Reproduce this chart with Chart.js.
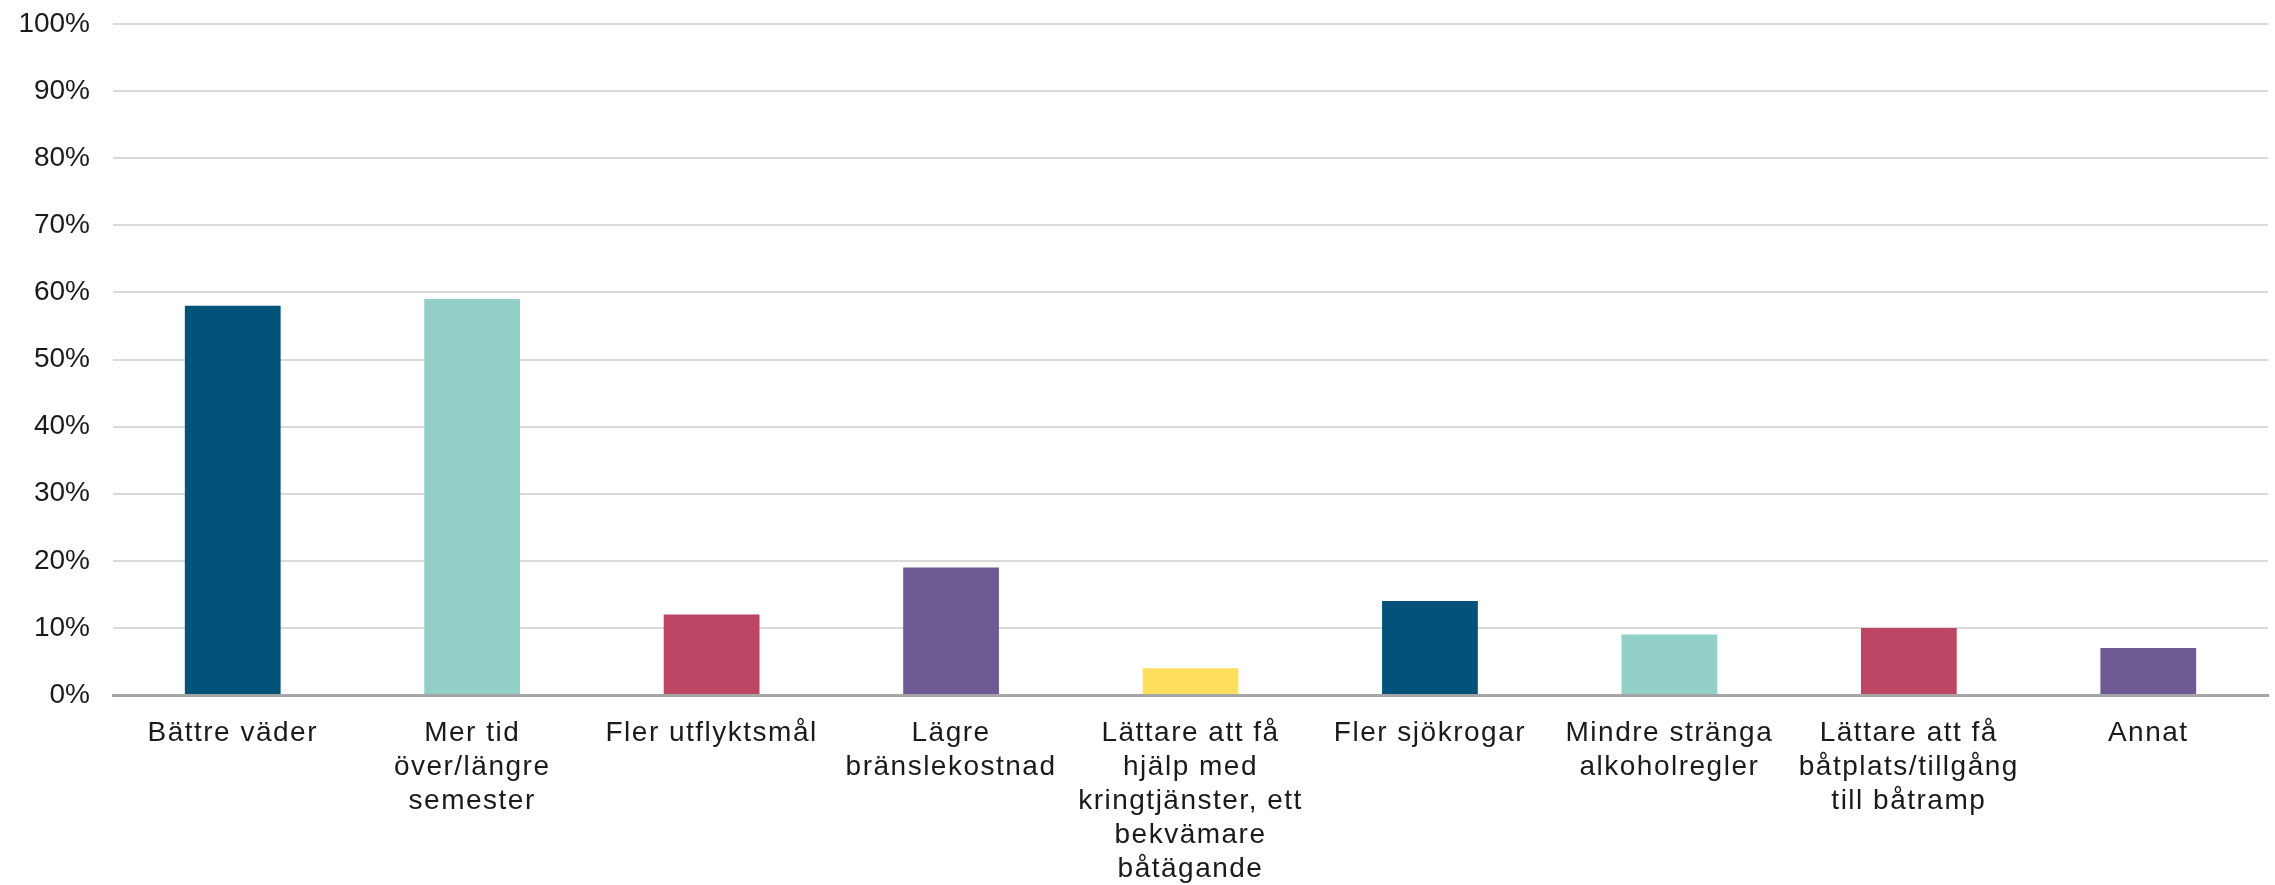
<!DOCTYPE html>
<html>
<head>
<meta charset="utf-8">
<script src="https://cdn.jsdelivr.net/npm/chart.js@4/dist/chart.umd.min.js"></script>
<style>
  html, body { margin: 0; padding: 0; background: #fff; }
  #wrap { width: 2275px; height: 885px; position: relative; }
</style>
</head>
<body>
<div id="wrap"><canvas id="chart"></canvas></div>
<script>
// categories (multi-line labels as in the source chart)
const categories = [
  'Bättre väder',
  ['Mer tid', 'över/längre', 'semester'],
  'Fler utflyktsmål',
  ['Lägre', 'bränslekostnad'],
  ['Lättare att få', 'hjälp med', 'kringtjänster, ett', 'bekvämare', 'båtägande'],
  'Fler sjökrogar',
  ['Mindre stränga', 'alkoholregler'],
  ['Lättare att få', 'båtplats/tillgång', 'till båtramp'],
  'Annat'
];
const shares = [58, 59, 12, 19, 4, 14, 9, 10, 7];
const barColors = ['#02527A', '#92CFC7', '#BC4664', '#6F5B94', '#FFDF5E',
                   '#02527A', '#92CFC7', '#BC4664', '#6F5B94'];
const yTicks = [0, 10, 20, 30, 40, 50, 60, 70, 80, 90, 100];

// wider letter spacing on the category labels only
const spacedLabels = {
  id: 'spacedLabels',
  afterUpdate(chart) {
    const sx = chart.scales.x;
    if (!sx || sx._spaced) return;
    const orig = sx.drawLabels;
    sx.drawLabels = function (area) {
      const ctx = this.ctx;
      ctx.save();
      ctx.letterSpacing = '1.5px';
      orig.call(this, area);
      ctx.restore();
    };
    sx._spaced = true;
  }
};

new Chart(document.getElementById('chart'), {
  type: 'bar',
  data: {
    labels: categories,
    datasets: [{
      data: shares,
      backgroundColor: barColors,
      borderWidth: 0,
      barPercentage: 0.4,
      categoryPercentage: 1
    }]
  },
  plugins: [spacedLabels],
  options: {
    responsive: true,
    maintainAspectRatio: false,
    animation: false,
    layout: { padding: { top: 24, left: 17, right: 7, bottom: 0 } },
    plugins: {
      legend: { display: false },
      tooltip: { enabled: false }
    },
    scales: {
      x: {
        grid: { display: false },
        border: { display: true, color: '#a6a6a6', width: 3 },
        afterFit(scale) { scale.height = 190; scale.paddingLeft = 0; scale.paddingRight = 0; },
        ticks: {
          color: '#1a1a1a',
          padding: 13,
          maxRotation: 0,
          autoSkip: false,
          font: { size: 28, family: 'Liberation Sans, Arial, sans-serif', lineHeight: '34px' }
        }
      },
      y: {
        min: yTicks[0],
        max: yTicks[yTicks.length - 1],
        afterBuildTicks(scale) { scale.ticks = yTicks.map(v => ({ value: v })); },
        afterFit(scale) { scale.width = 96; scale.paddingTop = 13; scale.paddingBottom = 0; },
        grid: { color: '#d9d9d9', lineWidth: 2, drawTicks: false },
        border: { display: false },
        ticks: {
          color: '#1a1a1a',
          padding: 23,
          callback: v => v + '%',
          font: { size: 28, family: 'Liberation Sans, Arial, sans-serif' }
        }
      }
    }
  }
});
</script>
</body>
</html>
